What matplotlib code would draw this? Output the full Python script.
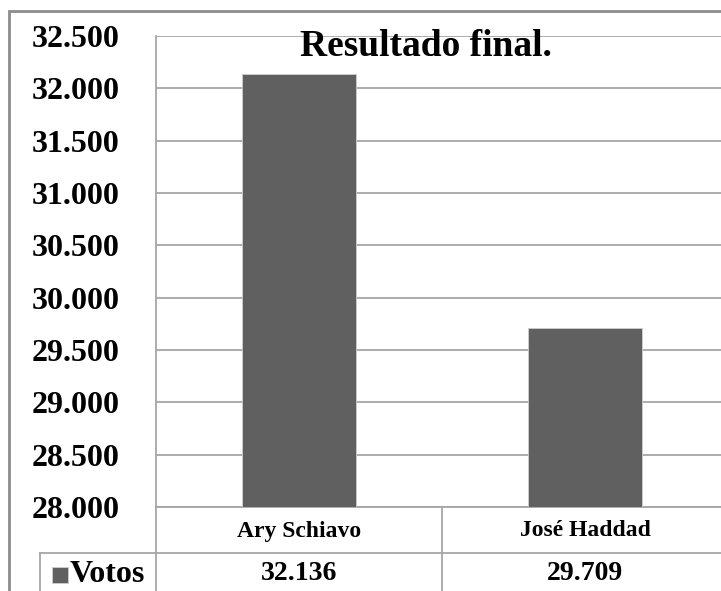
import matplotlib.pyplot as plt
import matplotlib.transforms as mtransforms
from matplotlib.lines import Line2D
from matplotlib.patches import Rectangle
import numpy as np

# data
candidates = ['Ary Schiavo', 'José Haddad']
votes = [32136, 29709]
series_name = 'Votos'
y_ticks = np.arange(28000, 32501, 500)

W, H = 721, 591
bar_color = '#606060'
line_color = '#a6a6a6'
font = ['Liberation Serif', 'DejaVu Serif']


def fx(px):
    return px / W


def fy(py):
    return 1 - py / H


def fmt(v):
    # brazilian thousands separator
    return f'{v:,}'.replace(',', '.')


fig = plt.figure(figsize=(W / 100, H / 100), dpi=100)

# outer chart border (runs off the right/bottom edge)
fig.add_artist(Rectangle((fx(9), fy(H + 20)), fx(W + 20), fy(11) - fy(H + 20),
                         transform=fig.transFigure, fill=False,
                         edgecolor='#8c8c8c', linewidth=2))

# plot area, right edge sits past the picture
ax = fig.add_axes([fx(156), fy(507), (728 - 156) / W, (507 - 36) / H])
x = np.arange(len(candidates))
ax.bar(x, votes, width=0.4, color=bar_color, edgecolor='#cfcfcf',
       linewidth=0.6, zorder=3)

ax.set_xlim(-0.5, len(candidates) - 0.5)
ax.set_ylim(y_ticks[0], y_ticks[-1])
ax.set_yticks(y_ticks)
ax.set_yticklabels([fmt(v) for v in y_ticks], fontsize=23, fontweight='bold',
                   family=font)
ax.tick_params(axis='y', length=0, pad=26)
ax.set_xticks([])
ax.yaxis.grid(True, color=line_color, linewidth=1.3, zorder=0)
ax.set_axisbelow(True)
for side in ['top', 'right']:
    ax.spines[side].set_visible(False)
for side in ['left', 'bottom']:
    ax.spines[side].set_color(line_color)
    ax.spines[side].set_linewidth(1.3)

# title inside the plot area
fig.text(fx(426), fy(47), 'Resultado final.', fontsize=27, fontweight='bold',
         family=font, ha='center', va='center')

# data table under the axis
mixed = mtransforms.blended_transform_factory(ax.transData, fig.transFigure)
tbl = dict(color=line_color, linewidth=1.3)
fig.add_artist(Line2D([fx(156), fx(156)], [fy(507), fy(H + 5)],
                      transform=fig.transFigure, **tbl))
fig.add_artist(Line2D([fx(40), fx(W + 5)], [fy(553), fy(553)],
                      transform=fig.transFigure, **tbl))
fig.add_artist(Line2D([fx(40), fx(40)], [fy(553), fy(H + 5)],
                      transform=fig.transFigure, **tbl))
for i in range(len(candidates) - 1):
    fig.add_artist(Line2D([i + 0.5, i + 0.5], [fy(507), fy(H + 5)],
                          transform=mixed, **tbl))

for i, name in enumerate(candidates):
    fig.text(i, fy(531), name, transform=mixed, fontsize=17, fontweight='bold',
             family=font, ha='center', va='center')
    fig.text(i, fy(573), fmt(votes[i]), transform=mixed, fontsize=20,
             fontweight='bold', family=font, ha='center', va='center')

# legend key in the table
fig.add_artist(Rectangle((fx(52), fy(583)), fx(68) - fx(52), fy(567) - fy(583),
                         transform=fig.transFigure, facecolor=bar_color,
                         edgecolor='#cfcfcf', linewidth=0.6))
fig.text(fx(70), fy(574), series_name, fontsize=23, fontweight='bold',
         family=font, ha='left', va='center')

fig.savefig('out.png', dpi=100)
